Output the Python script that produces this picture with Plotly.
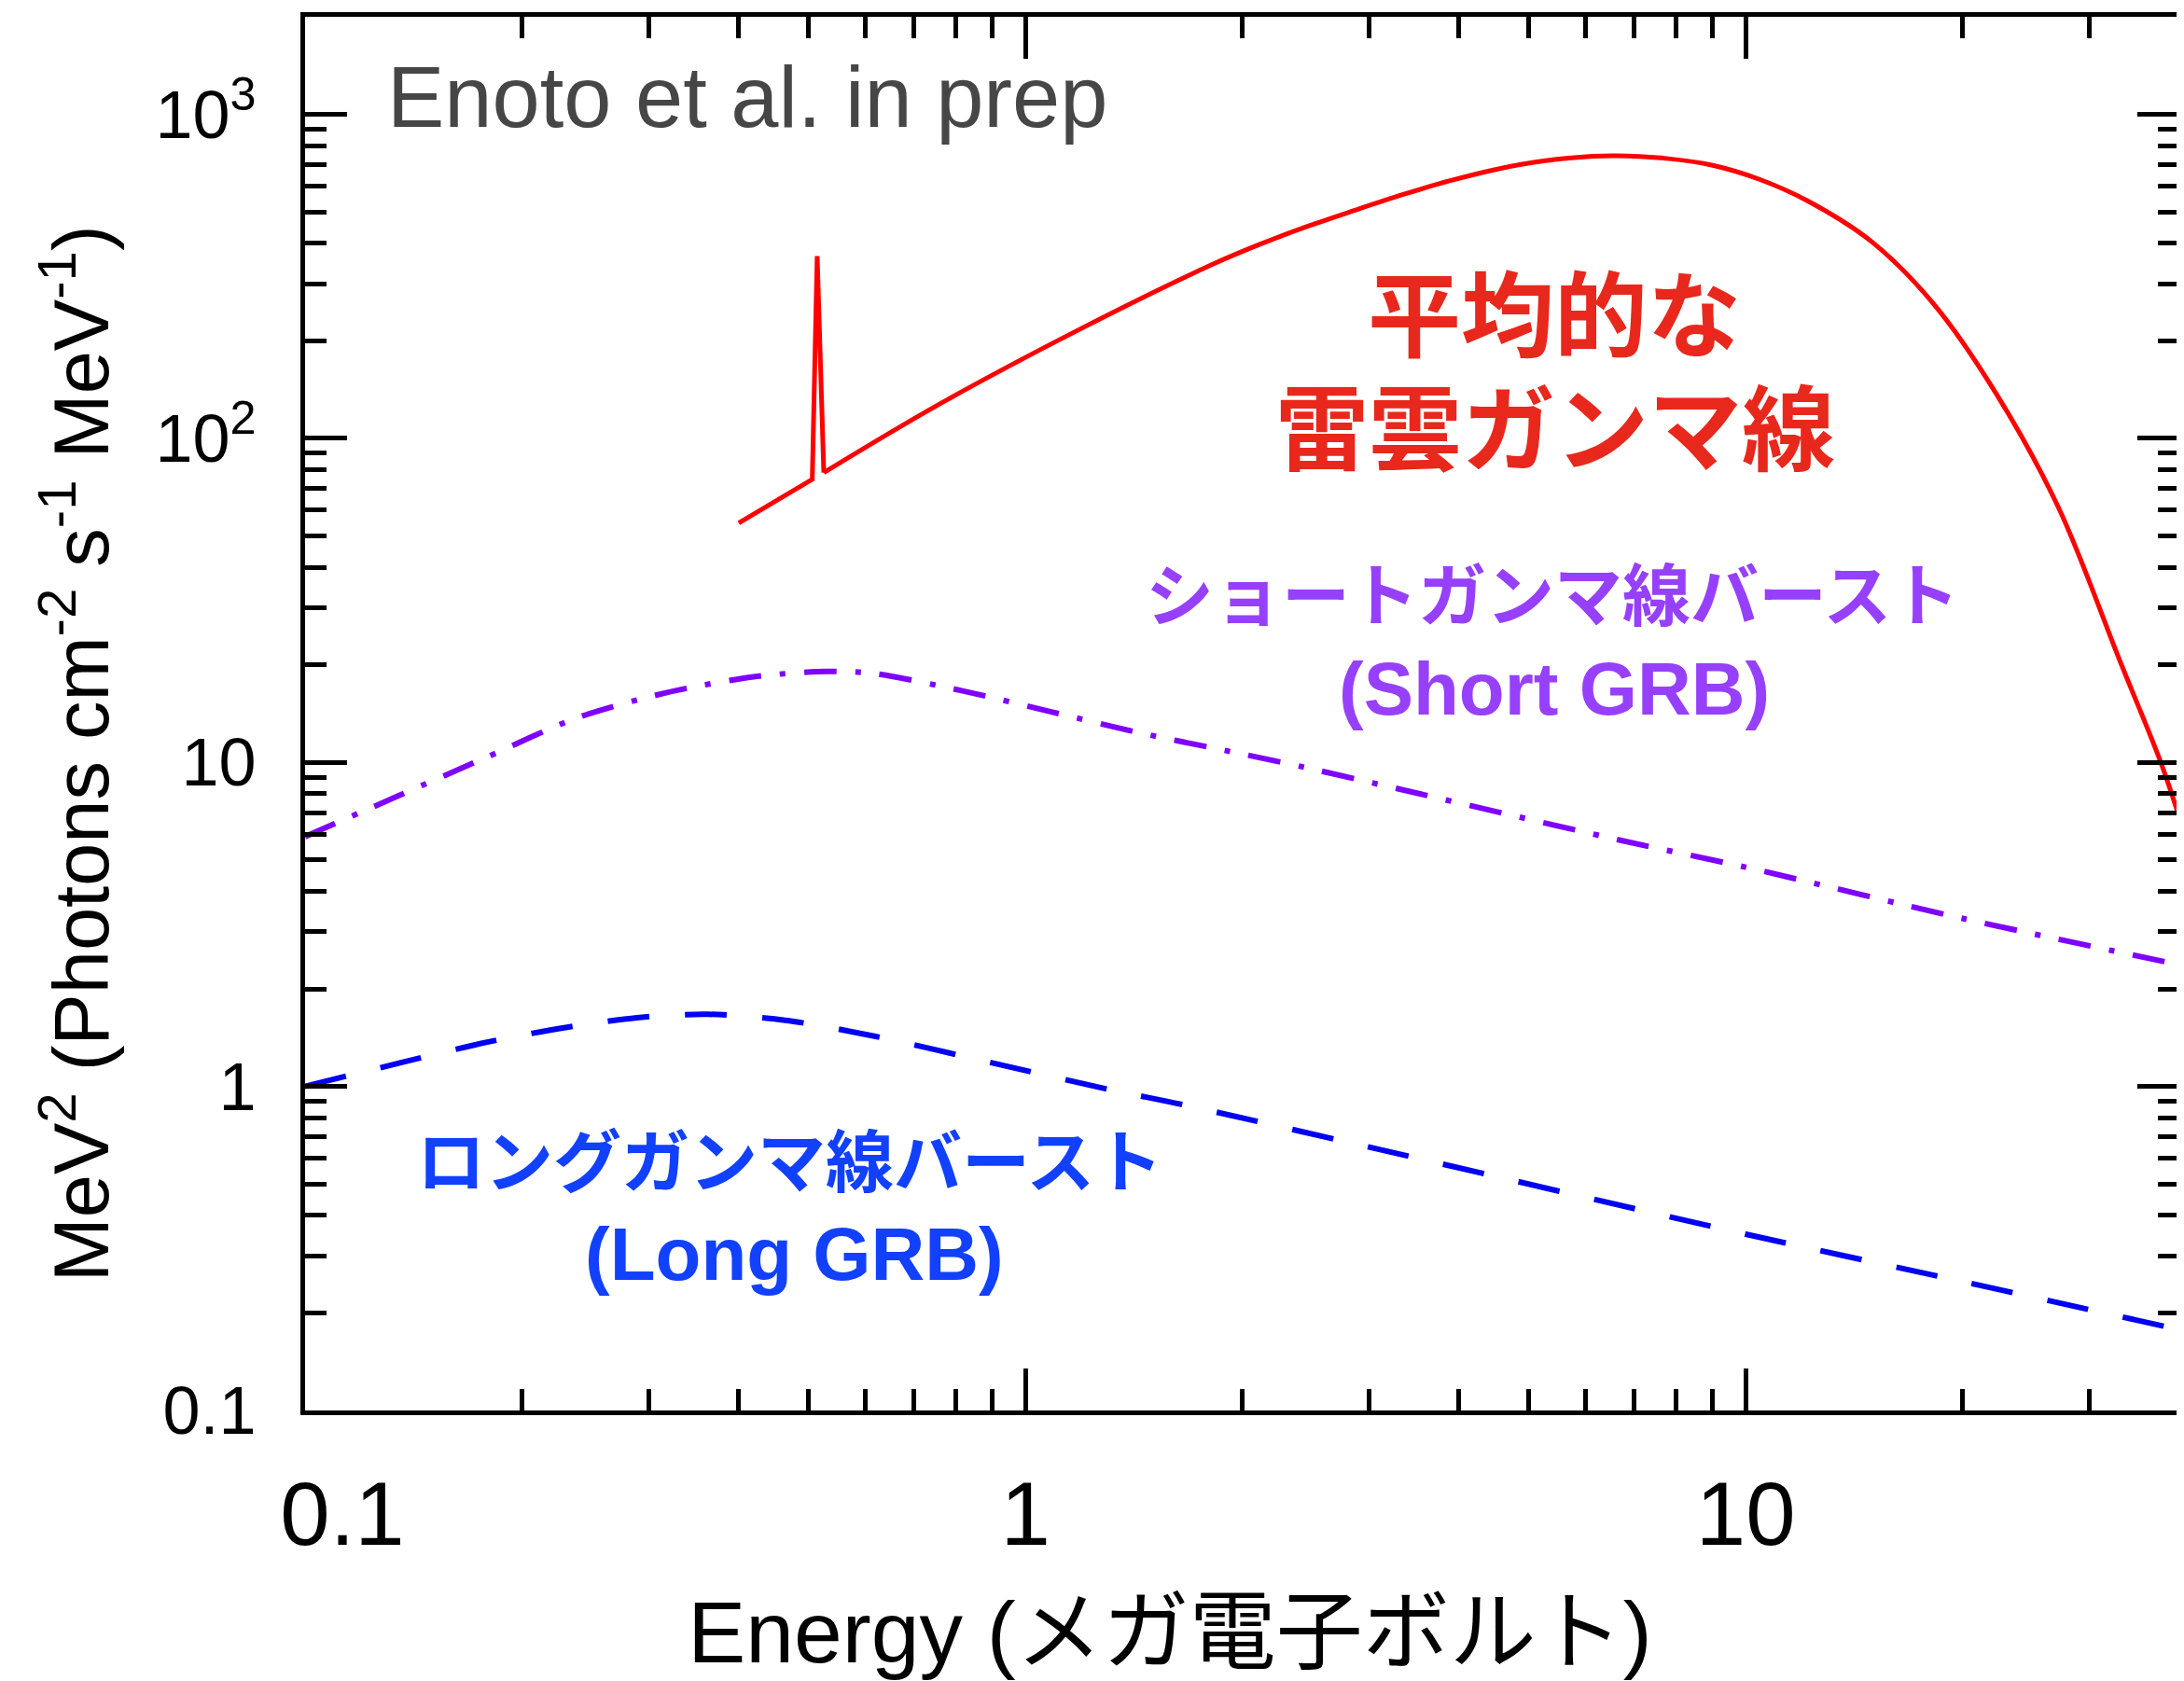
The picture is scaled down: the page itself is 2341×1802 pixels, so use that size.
import math
import plotly.graph_objects as go

# ---------------- data ----------------
# Average thunderstorm gamma-ray spectrum
# continuum just below the 511 keV line and the line itself
tgf_line_energy = [0.40, 0.506, 0.514, 0.525]
tgf_line_flux = [54.8, 74.7, 365, 78.4]
# continuum above the line (cut-off power law)
tgf_energy = [0.525, 0.757, 1.194, 1.817, 2.116, 2.463, 2.868, 3.338, 3.888, 4.525,
              5.27, 6.13, 6.62, 7.71, 8.97, 10.45, 12.2, 14.95, 18.24, 22.25,
              27.15, 33.1, 37.7, 39.8]
tgf_flux = [78.4, 127, 218, 344, 397, 451, 506, 565, 624, 678,
            719, 742, 745, 732, 697, 630, 540, 405, 260, 138,
            61.5, 20.5, 10.0, 7.0]

# Short GRB
short_energy = [0.10, 0.135, 0.179, 0.238, 0.317, 0.422, 0.530, 0.617, 0.821,
                1.09, 1.45, 1.85, 2.42, 6.7, 10.0, 20.0, 39.8]
short_flux = [5.9, 7.9, 10.4, 13.7, 16.4, 18.4, 19.1, 18.8, 16.6,
              14.3, 12.3, 11.0, 9.7, 5.75, 4.75, 3.3, 2.38]

# Long GRB
long_energy = [0.10, 0.135, 0.179, 0.230, 0.289, 0.362, 0.464, 0.617, 0.902,
               1.32, 1.66, 3.0, 10.0, 20.0, 39.8]
long_flux = [1.0, 1.18, 1.37, 1.52, 1.63, 1.67, 1.60, 1.43, 1.18,
             0.974, 0.877, 0.65, 0.35, 0.25, 0.178]

NB = "\u00a0"
x_tickvals = [0.1, 1, 10]
x_ticktext = [NB * 3 + "0.1", "1", "10"]
y_tickvals = [0.1, 1, 10, 100, 1000]
y_ticktext = ["0.1", "1", "10", "10<sup>2</sup>", "10<sup>3</sup>"]

x_range = [0.1, 40]
y_range = [0.1, 2000]

# ---------------- layout geometry ----------------
# the page body adds an 8 px offset, so the figure is 8 px smaller
PAGE_OFF = 8
W, H = 2341 - PAGE_OFF, 1802 - PAGE_OFF
ML, MR, MT, MB = 327 - PAGE_OFF, 5, 18 - PAGE_OFF, 290
# plot area in screen pixels
SL, SR, ST, SB = 327, 2336, 18, 1512


def px(x):
    return (x - SL) / (SR - SL)


def py(y):
    return (SB - y) / (SB - ST)


LATIN = "Liberation Sans, Arial, Helvetica, sans-serif"
MIXED = "Liberation Sans, Noto Sans CJK JP, sans-serif"
RED = "#FF0000"

fig = go.Figure()

fig.add_trace(go.Scatter(
    x=long_energy, y=long_flux, mode="lines", name="Long GRB",
    line=dict(color="#0000F2", width=6, dash="45px,38px", shape="spline", smoothing=0.8),
))
fig.add_trace(go.Scatter(
    x=short_energy, y=short_flux, mode="lines", name="Short GRB",
    line=dict(color="#8000FF", width=6, dash="35px,20px,6px,20px", shape="spline", smoothing=0.8),
))
fig.add_trace(go.Scatter(
    x=tgf_line_energy, y=tgf_line_flux, mode="lines", name="Thunderstorm (511 keV line)",
    line=dict(color=RED, width=5),
))
fig.add_trace(go.Scatter(
    x=tgf_energy, y=tgf_flux, mode="lines", name="Thunderstorm gamma rays",
    line=dict(color=RED, width=5, shape="spline", smoothing=1.0),
))

axis_common = dict(
    type="log",
    automargin=False,
    showline=True, linecolor="black", linewidth=5,
    mirror="allticks",
    ticks="inside", ticklen=45, tickwidth=5, tickcolor="black",
    showgrid=False, zeroline=False,
    minor=dict(ticks="inside", ticklen=23, tickwidth=5, tickcolor="black",
               dtick="D1", showgrid=False),
)

fig.update_xaxes(
    **axis_common,
    range=[math.log10(x_range[0]), math.log10(x_range[1])],
    tickmode="array", tickvals=x_tickvals, ticktext=x_ticktext,
    tickfont=dict(family=LATIN, size=96, color="black"),
    ticklabelstandoff=24,
    title=dict(text="Energy (メガ電子ボルト)<span>" + NB * 6 + "</span>",
               font=dict(family=MIXED, size=93, color="black"),
               standoff=48),
)
fig.update_yaxes(
    **axis_common,
    range=[math.log10(y_range[0]), math.log10(y_range[1])],
    tickmode="array", tickvals=y_tickvals, ticktext=y_ticktext,
    tickfont=dict(family=LATIN, size=72, color="black"),
    ticklabelstandoff=33,
    title=dict(text="MeV<sup>2</sup> (Photons cm<sup>-2</sup> s<sup>-1</sup> MeV<sup>-1</sup>)<span>"
                    + NB * 3 + "\u2009</span>",
               font=dict(family=LATIN, size=83, color="black"),
               standoff=24),
)

annotations = [
    dict(text="Enoto et al. in prep", x=px(413), y=py(104), xanchor="left", yanchor="middle",
         font=dict(family=LATIN, size=92, color="#464646")),
    dict(text="<b>平均的な</b>", x=px(1666), y=py(340), xanchor="center", yanchor="middle",
         font=dict(family=MIXED, size=100, color="#E8281C")),
    dict(text="<b>雷雲ガンマ線</b>", x=px(1667), y=py(462), xanchor="center", yanchor="middle",
         font=dict(family=MIXED, size=100, color="#E8281C")),
    dict(text="<b>ショートガンマ線バースト</b>", x=px(1664), y=py(640), xanchor="center", yanchor="middle",
         font=dict(family=MIXED, size=73, color="#9740FC")),
    dict(text="<b>(Short GRB)</b>", x=px(1666), y=py(738), xanchor="center", yanchor="middle",
         font=dict(family=MIXED, size=80, color="#9740FC")),
    dict(text="<b>ロングガンマ線バースト</b>", x=px(846), y=py(1246), xanchor="center", yanchor="middle",
         font=dict(family=MIXED, size=73, color="#1240FF")),
    dict(text="<b>(Long GRB)</b>", x=px(851), y=py(1344), xanchor="center", yanchor="middle",
         font=dict(family=MIXED, size=80, color="#1240FF")),
]
for a in annotations:
    a.update(xref="paper", yref="paper", showarrow=False)

fig.update_layout(
    width=W, height=H,
    margin=dict(l=ML, r=MR, t=MT, b=MB),
    paper_bgcolor="white", plot_bgcolor="white",
    showlegend=False,
    annotations=annotations,
)

fig.write_html("out.html")
